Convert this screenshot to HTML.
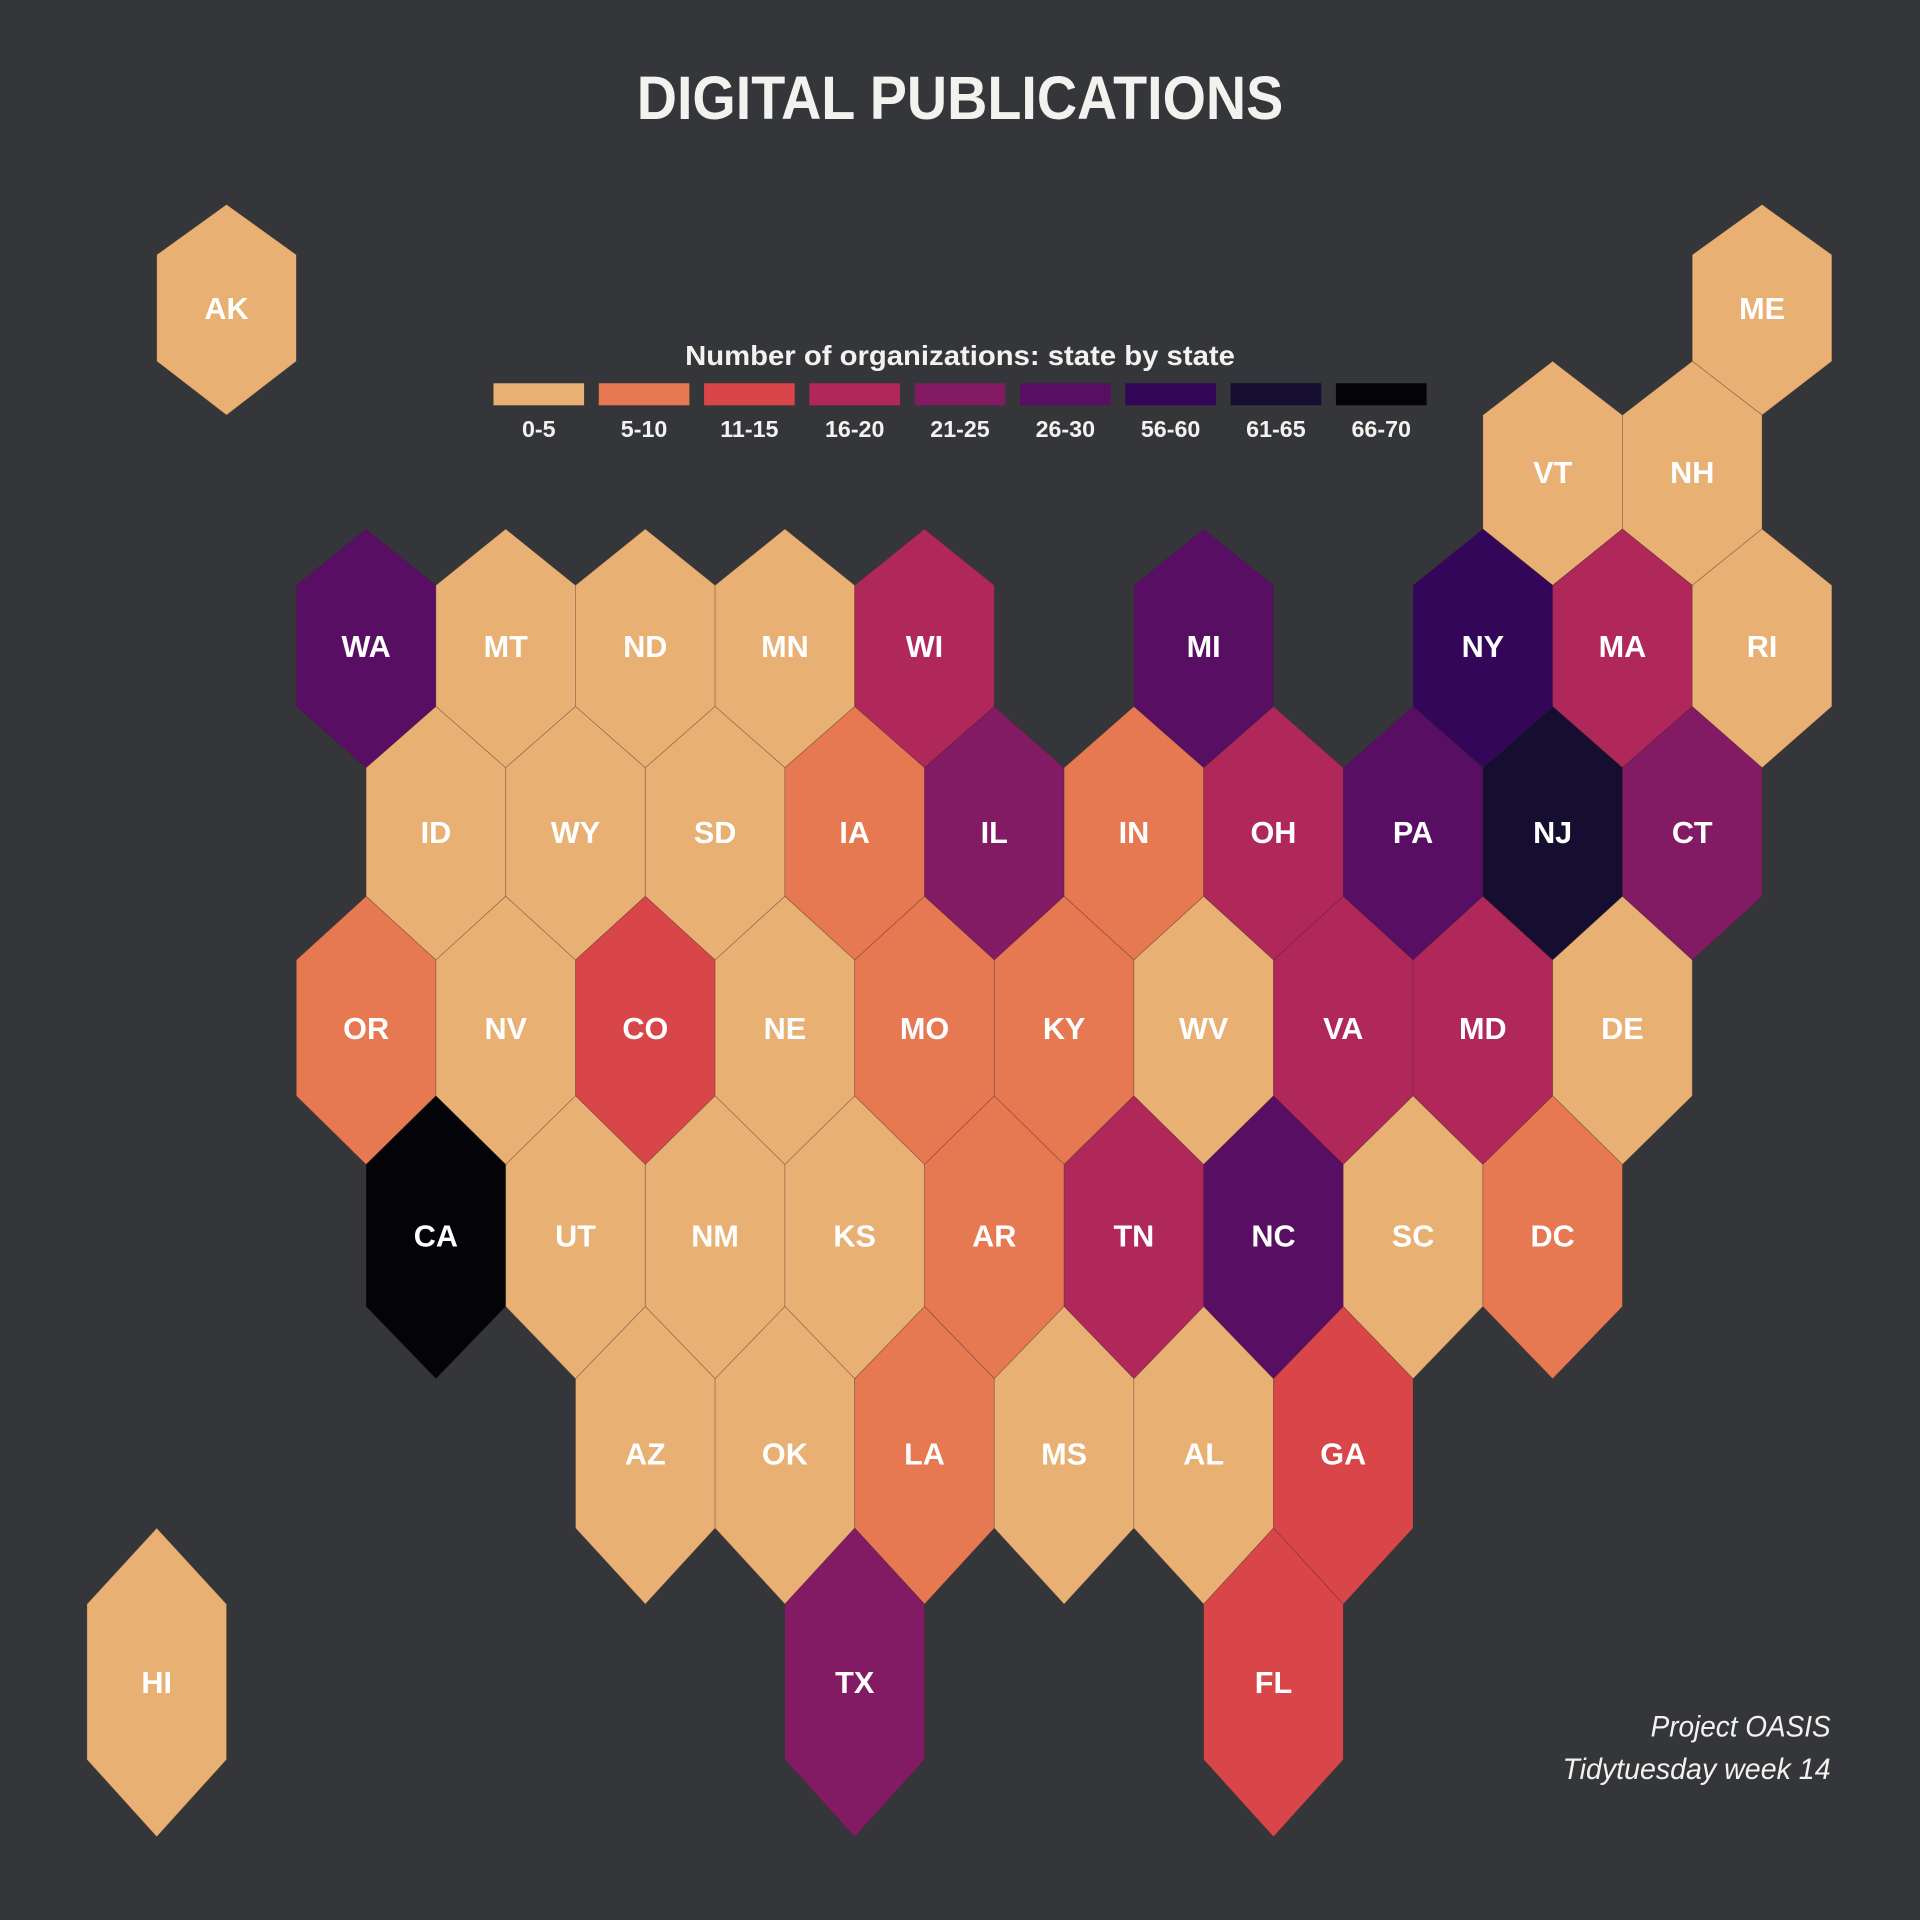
<!DOCTYPE html>
<html><head><meta charset="utf-8"><style>
html,body{margin:0;padding:0;background:#35363a;}
svg{display:block;font-family:"Liberation Sans",sans-serif;}
</style></head><body>
<svg id="chart" width="1920" height="1920" viewBox="0 0 1568 1568" xmlns="http://www.w3.org/2000/svg">
<rect width="1568" height="1568" fill="#35363a"/>
<text x="784" y="97" text-anchor="middle" font-size="50" font-weight="bold" fill="#f2f2ee" textLength="528" lengthAdjust="spacingAndGlyphs">DIGITAL PUBLICATIONS</text>
<text x="784" y="298" text-anchor="middle" font-size="23" font-weight="bold" fill="#f2f2ee" textLength="449" lengthAdjust="spacingAndGlyphs">Number of organizations: state by state</text>
<g id="legend"></g>
<g id="hexes"></g>
<text x="1495" y="1418" text-anchor="end" font-size="24" font-style="italic" fill="#f2f2ee" textLength="147" lengthAdjust="spacingAndGlyphs">Project OASIS</text>
<text x="1495" y="1453" text-anchor="end" font-size="24" font-style="italic" fill="#f2f2ee" textLength="219" lengthAdjust="spacingAndGlyphs">Tidytuesday week 14</text>
</svg>
<script>
const categories = ["0-5","5-10","11-15","16-20","21-25","26-30","56-60","61-65","66-70"];
const palette = ["#e8b073","#e67852","#d8464a","#b0275a","#821b64","#580e62","#33065a","#150e30","#040307"];
const states = ["AK","ME","VT","NH","WA","MT","ND","MN","WI","MI","NY","MA","RI","ID","WY","SD","IA","IL","IN","OH","PA","NJ","CT","OR","NV","CO","NE","MO","KY","WV","VA","MD","DE","CA","UT","NM","KS","AR","TN","NC","SC","DC","AZ","OK","LA","MS","AL","GA","TX","FL","HI"];
const stateCategory = [0,0,0,0,5,0,0,0,3,5,6,3,0,0,0,0,1,4,1,3,5,7,4,1,0,2,0,1,1,0,3,3,0,8,0,0,0,1,3,5,0,1,0,0,1,0,0,2,4,2,0];
const stateRow = [0,0,1,1,2,2,2,2,2,2,2,2,2,3,3,3,3,3,3,3,3,3,3,4,4,4,4,4,4,4,4,4,4,5,5,5,5,5,5,5,5,5,6,6,6,6,6,6,7,7,7];
const stateCol = [1,23,20,22,3,5,7,9,11,15,19,21,23,4,6,8,10,12,14,16,18,20,22,3,5,7,9,11,13,15,17,19,21,4,6,8,10,12,14,16,18,20,7,9,11,13,15,17,10,16,0];
// layout (row geometry): top point, upper shoulder, lower shoulder, bottom point
const rowTop=[167,295,432,577,732,895,1067,1248];
const rowUp =[208,339,478,627,784,951,1126,1310];
const rowLo =[295,432,577,732,895,1067,1248,1437];
const rowBot=[339,478,627,784,951,1126,1310,1500];
const NS="http://www.w3.org/2000/svg";
const xOf = c => 128 + 57*c; // column index -> center x (half-width 57)
const hg=document.getElementById('hexes');
states.forEach((s,i)=>{
  const r=stateRow[i], cx=xOf(stateCol[i]), h=57;
  const p=document.createElementNS(NS,'polygon');
  p.setAttribute('points',`${cx},${rowTop[r]} ${cx+h},${rowUp[r]} ${cx+h},${rowLo[r]} ${cx},${rowBot[r]} ${cx-h},${rowLo[r]} ${cx-h},${rowUp[r]}`);
  p.setAttribute('fill',palette[stateCategory[i]]);
  p.setAttribute('stroke','rgba(60,40,40,0.35)');
  p.setAttribute('stroke-width','0.6');
  
  
  hg.appendChild(p);
  const t=document.createElementNS(NS,'text');
  t.setAttribute('x',cx);
  t.setAttribute('y',(rowUp[r]+rowLo[r])/2+9);
  t.setAttribute('text-anchor','middle');
  t.setAttribute('font-size','25');
  t.setAttribute('font-weight','bold');
  t.setAttribute('fill','#ffffff');
  t.textContent=s;
  
  
  hg.appendChild(t);
});
const lg=document.getElementById('legend');
categories.forEach((c,i)=>{
  const x=403+86*i;
  const r=document.createElementNS(NS,'rect');
  r.setAttribute('x',x);r.setAttribute('y',313);r.setAttribute('width',74);r.setAttribute('height',18);
  r.setAttribute('fill',palette[i]);
  
  
  lg.appendChild(r);
  const t=document.createElementNS(NS,'text');
  t.setAttribute('x',x+37);t.setAttribute('y',357);
  t.setAttribute('text-anchor','middle');t.setAttribute('font-size','19');t.setAttribute('font-weight','bold');
  t.setAttribute('fill','#f2f2ee');
  t.textContent=c;
  
  
  lg.appendChild(t);
});
</script>
</body></html>
